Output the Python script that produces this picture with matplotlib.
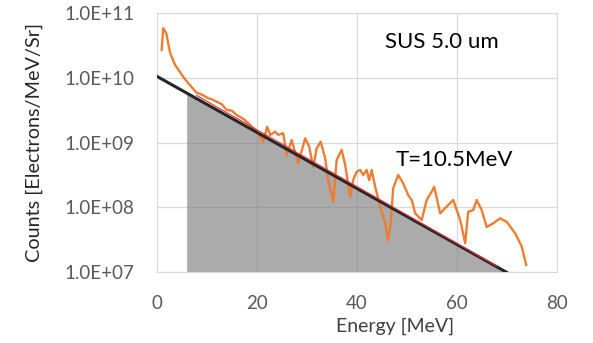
import matplotlib.pyplot as plt
from matplotlib.ticker import FuncFormatter

plt.rcParams['font.family'] = ['Lato', 'DejaVu Sans']

# measured spectrum (orange)
energy = [1.0, 1.3, 1.9, 2.7, 3.7, 5.3, 6.3, 8.0, 9.2, 10.3, 11.2, 12.0, 13.0, 14.0, 15.0,
          16.0, 17.4, 18.7, 20.0, 21.3, 22.1, 22.7, 23.7, 24.3, 25.3, 26.0, 27.0, 28.3,
          29.7, 30.5, 31.3, 32.0, 32.8, 33.7, 34.3, 35.3, 36.0, 37.0, 37.7, 38.7, 39.3,
          40.0, 40.7, 41.3, 42.0, 42.5, 43.0, 43.7, 44.7, 45.7, 46.3, 46.8, 47.3, 48.3,
          49.3, 50.3, 51.0, 51.7, 53.0, 54.0, 55.0, 55.5, 56.7, 58.0, 59.3, 60.7, 61.7,
          62.3, 63.3, 64.0, 65.0, 66.0, 67.3, 68.7, 70.0, 71.7, 73.0, 73.9]
counts = [2.66e10, 5.75e10, 4.87e10, 2.39e10, 1.56e10, 1.03e10, 8.2e9, 5.85e9, 5.4e9,
          4.8e9, 4.6e9, 4.25e9, 3.9e9, 3.17e9, 3.1e9, 2.65e9, 2.3e9, 1.86e9, 1.47e9,
          1.03e9, 1.75e9, 1.31e9, 1.47e9, 1.31e9, 1.39e9, 6.4e8, 1.09e9, 4.8e8, 1.16e9,
          8.6e8, 4.2e8, 8.1e8, 1.03e9, 5.7e8, 2.64e8, 1.22e8, 5.4e8, 7.7e8, 4.5e8,
          1.46e8, 2.64e8, 3.55e8, 3.77e8, 3.16e8, 3.77e8, 2.64e8, 3.77e8, 2.08e8,
          1.03e8, 5.7e7, 3.15e7, 5.7e7, 1.97e8, 3.16e8, 2.35e8, 1.55e8, 1.3e8, 8.1e7,
          6.4e7, 1.3e8, 1.75e8, 2.08e8, 8.1e7, 1.03e8, 1.3e8, 6.4e7, 2.8e7, 8.6e7,
          9.1e7, 1.3e8, 9.1e7, 5.0e7, 5.7e7, 6.8e7, 6.0e7, 4.0e7, 2.5e7, 1.3e7]

# exponential fit, T = 10.5 MeV (straight on log axis)
fit_e = [0, 70]
fit_c = [1.05e10, 1.0e7]
red_e = [8, 68]
red_c = [5.3e9, 1.25e7]
shade_e = [6.1, 70, 6.1]
shade_c = [5.8e9, 1.0e7, 1.0e7]

fig = plt.figure(figsize=(5.93, 3.43), dpi=100)
ax = fig.add_axes([0.2642, 0.206, 0.6746, 0.757])

ax.fill(shade_e, shade_c, color='#7f7f7f', alpha=0.65, lw=0, zorder=2)
ax.plot(energy, counts, color='#ED7D31', lw=1.7, zorder=3)
ax.plot(fit_e, fit_c, color='#262626', lw=2.2, zorder=4)
ax.plot(red_e, red_c, color='#e0303a', lw=0.8, zorder=5)

ax.set_yscale('log')
ax.set_xlim(0, 80)
ax.set_ylim(1e7, 1e11)
ax.set_xticks([0, 20, 40, 60, 80])
ax.set_yticks([1e7, 1e8, 1e9, 1e10, 1e11])
ax.minorticks_off()
ax.yaxis.set_major_formatter(FuncFormatter(lambda v, p: f"{v:.1E}"))
ax.tick_params(length=0, labelsize=13.5, labelcolor='#595959', pad=16)
ax.grid(True, color='#d9d9d9', lw=0.9, zorder=0)
ax.set_axisbelow(True)
for s in ax.spines.values():
    s.set_color('#d9d9d9')

ax.set_xlabel('Energy [MeV]', fontsize=14, color='#404040')
ax.set_ylabel('Counts [Electrons/MeV/Sr]', fontsize=14.3, color='#262626')
ax.xaxis.set_label_coords(0.596, -0.175)
ax.yaxis.set_label_coords(-0.284, 0.5)

ax.text(45.7, 3.57e10, 'SUS 5.0 um', fontsize=16, ha='left', va='center', color='black')
ax.text(47.7, 5.37e8, 'T=10.5MeV', fontsize=16, ha='left', va='center', color='black')

fig.savefig('out.png', dpi=100)
